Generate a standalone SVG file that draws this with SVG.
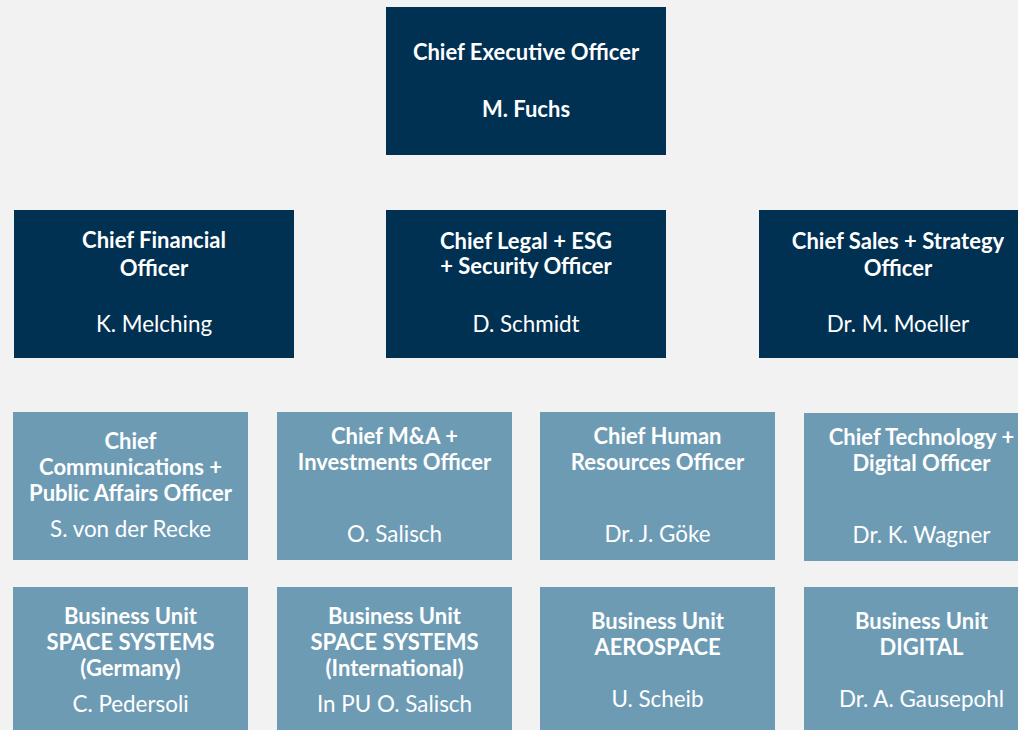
<svg xmlns="http://www.w3.org/2000/svg" width="1018" height="730" viewBox="0 0 1018 730">
  <style>
    .dark { fill: #003052; }
    .light { fill: #6e9bb4; }
    text { font-family: Lato, "Liberation Sans", sans-serif; fill: #ffffff; text-anchor: middle; }
    .t { font-weight: bold; font-size: 22px; }
    .n { font-weight: normal; font-size: 22.4px; }
  </style>
  <rect x="0" y="0" width="1018" height="730" fill="#f2f2f2"/>

  <!-- executive board -->
  <g id="ceo">
    <rect class="dark" x="386" y="7" width="280" height="148"/>
    <text class="t" x="526" y="60">Chief Executive Officer</text>
    <text class="t" x="526" y="117">M. Fuchs</text>
  </g>
  <g id="cfo">
    <rect class="dark" x="14" y="210" width="280" height="148"/>
    <text class="t" x="154" y="248">Chief Financial</text>
    <text class="t" x="154" y="276">Officer</text>
    <text class="n" x="154" y="332">K. Melching</text>
  </g>
  <g id="clo">
    <rect class="dark" x="386" y="210" width="280" height="148"/>
    <text class="t" x="526" y="249">Chief Legal + ESG</text>
    <text class="t" x="526" y="274">+ Security Officer</text>
    <text class="n" x="526" y="332">D. Schmidt</text>
  </g>
  <g id="cso">
    <rect class="dark" x="759" y="210" width="280" height="148"/>
    <text class="t" x="898" y="249">Chief Sales + Strategy</text>
    <text class="t" x="898" y="276">Officer</text>
    <text class="n" x="898" y="332">Dr. M. Moeller</text>
  </g>

  <!-- corporate functions -->
  <g id="cco">
    <rect class="light" x="13" y="412" width="235" height="148"/>
    <text class="t" x="130.5" y="449">Chief</text>
    <text class="t" x="130.5" y="475">Communications +</text>
    <text class="t" x="130.5" y="501">Public Affairs Officer</text>
    <text class="n" x="130.5" y="537">S. von der Recke</text>
  </g>
  <g id="cio">
    <rect class="light" x="277" y="412" width="235" height="148"/>
    <text class="t" x="394.5" y="444">Chief M&amp;A +</text>
    <text class="t" x="394.5" y="470">Investments Officer</text>
    <text class="n" x="394.5" y="542">O. Salisch</text>
  </g>
  <g id="chro">
    <rect class="light" x="540" y="412" width="235" height="148"/>
    <text class="t" x="657.5" y="444">Chief Human</text>
    <text class="t" x="657.5" y="470">Resources Officer</text>
    <text class="n" x="657.5" y="542">Dr. J. Göke</text>
  </g>
  <g id="cto">
    <rect class="light" x="804" y="413" width="235" height="148"/>
    <text class="t" x="921.5" y="445">Chief Technology +</text>
    <text class="t" x="921.5" y="471">Digital Officer</text>
    <text class="n" x="921.5" y="543">Dr. K. Wagner</text>
  </g>

  <!-- business units -->
  <g id="bu-space-de">
    <rect class="light" x="13" y="587" width="235" height="150"/>
    <text class="t" x="130.5" y="624">Business Unit</text>
    <text class="t" x="130.5" y="650">SPACE SYSTEMS</text>
    <text class="t" x="130.5" y="676">(Germany)</text>
    <text class="n" x="130.5" y="712">C. Pedersoli</text>
  </g>
  <g id="bu-space-int">
    <rect class="light" x="277" y="587" width="235" height="150"/>
    <text class="t" x="394.5" y="624">Business Unit</text>
    <text class="t" x="394.5" y="650">SPACE SYSTEMS</text>
    <text class="t" x="394.5" y="676">(International)</text>
    <text class="n" x="394.5" y="712">In PU O. Salisch</text>
  </g>
  <g id="bu-aerospace">
    <rect class="light" x="540" y="587" width="235" height="150"/>
    <text class="t" x="657.5" y="629">Business Unit</text>
    <text class="t" x="657.5" y="655">AEROSPACE</text>
    <text class="n" x="657.5" y="707">U. Scheib</text>
  </g>
  <g id="bu-digital">
    <rect class="light" x="804" y="587" width="235" height="150"/>
    <text class="t" x="921.5" y="629">Business Unit</text>
    <text class="t" x="921.5" y="655">DIGITAL</text>
    <text class="n" x="921.5" y="707">Dr. A. Gausepohl</text>
  </g>

  <g id="connectors"/>
</svg>
